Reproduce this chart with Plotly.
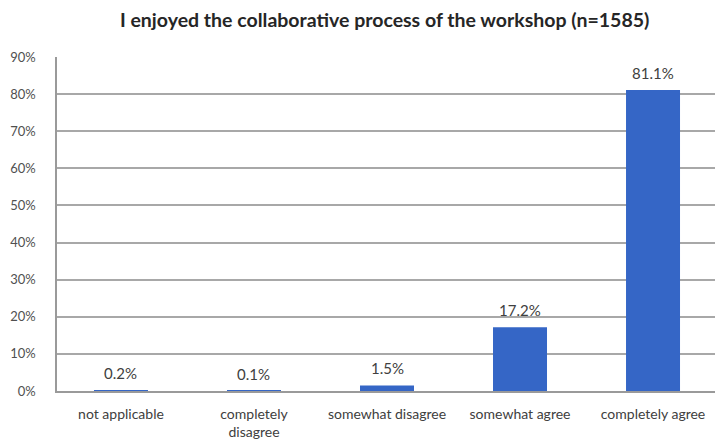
import plotly.graph_objects as go

categories = ["not applicable", "completely<br>disagree", "somewhat disagree",
              "somewhat agree", "completely agree"]
shares = [0.002, 0.001, 0.015, 0.172, 0.811]
y_ticks = [0, 0.1, 0.2, 0.3, 0.4, 0.5, 0.6, 0.7, 0.8, 0.9]

positions = list(range(len(categories)))

fig = go.Figure(
    go.Bar(
        x=positions,
        y=shares,
        width=0.406,
        marker=dict(color="#3566c6", line=dict(width=0)),
        cliponaxis=False,
    )
)

# value labels sitting a little above each bar
for pos, share in zip(positions, shares):
    fig.add_annotation(
        x=pos,
        y=share,
        text=f"{share:.1%}",
        showarrow=False,
        yanchor="bottom",
        yshift=6,
        font=dict(family="Lato, sans-serif", size=15, color="#404040"),
    )

fig.update_layout(
    width=715,
    height=447,
    margin=dict(l=57, r=0, t=57, b=56),
    paper_bgcolor="white",
    plot_bgcolor="white",
    showlegend=False,
    title=dict(
        text="<b>I enjoyed the collaborative process of the workshop (n=1585)</b>",
        x=0.538,
        xanchor="center",
        y=0.955,
        yanchor="middle",
        font=dict(family="Lato, sans-serif", size=19.5, color="#262626"),
    ),
    xaxis=dict(
        range=[-0.481, 4.466],
        tickmode="array",
        tickvals=positions,
        ticktext=categories,
        tickfont=dict(family="Lato, sans-serif", size=14, color="#404040"),
        ticklabelstandoff=9,
        showgrid=False,
        zeroline=False,
        showline=True,
        linecolor="#9a9a9a",
        linewidth=1.5,
        ticks="",
    ),
    yaxis=dict(
        range=[0, 0.9],
        tickmode="array",
        tickvals=y_ticks,
        tickformat=".0%",
        tickfont=dict(family="Lato, sans-serif", size=13, color="#505050"),
        ticklabelstandoff=17,
        showgrid=True,
        gridcolor="#a8a8a8",
        gridwidth=1.5,
        zeroline=False,
        showline=True,
        linecolor="#9a9a9a",
        linewidth=1.5,
        ticks="",
    ),
)

fig.write_html("out.html")
